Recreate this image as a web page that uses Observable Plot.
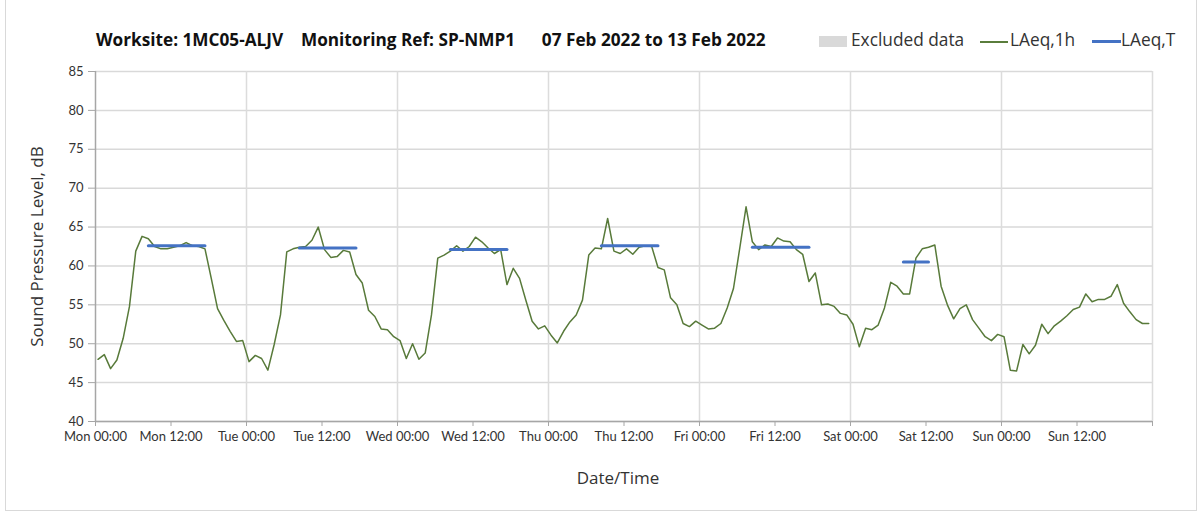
<!DOCTYPE html>
<html><head><meta charset="utf-8">
<script src="https://cdn.jsdelivr.net/npm/d3@7"></script>
<script src="https://cdn.jsdelivr.net/npm/@observablehq/plot@0.6"></script>
<style>
body{margin:0;background:#fff;font-family:"Open Sans",Lato,sans-serif;}
#wrap{position:relative;width:1203px;height:514px;overflow:hidden;background:#fff;}
#frame{position:absolute;left:5px;top:-2px;width:1192px;height:513px;border:1px solid #d9d9d9;box-sizing:border-box;}
#title{position:absolute;left:96px;top:29.5px;line-height:20px;font-weight:bold;font-size:17.2px;white-space:pre;color:#111;}
.lg{position:absolute;top:30px;line-height:20px;font-size:17.3px;color:#333;white-space:pre;}
.sw{position:absolute;}
#chart{position:absolute;left:0;top:60px;}
</style></head>
<body>
<div id="wrap">
  <div id="frame"></div>
  <div id="title">Worksite: 1MC05-ALJV    Monitoring Ref: SP-NMP1      07 Feb 2022 to 13 Feb 2022</div>
  <div class="sw" style="left:819px;top:36px;width:28px;height:11px;background:#d9d9d9"></div>
  <div class="lg" style="left:851px">Excluded data</div>
  <div class="sw" style="left:980px;top:41px;width:28px;height:1.5px;background:#5a7d3c"></div>
  <div class="lg" style="left:1010px">LAeq,1h</div>
  <div class="sw" style="left:1092px;top:40px;width:29px;height:3px;background:#4472c4"></div>
  <div class="lg" style="left:1121px">LAeq,T</div>
  <div id="chart"></div>
</div>
<script>
// Hourly LAeq,1h values, Mon 07 Feb 2022 00:00 .. Sun 13 Feb 2022 23:00
const laeq1h = [
  48.0,48.6,46.8,47.9,50.7,54.8,61.9,63.8,63.5,62.5,62.2,62.2,62.4,62.6,63.0,62.6,62.5,62.2,58.4,54.5,53.0,51.6,50.3,50.4,
  47.7,48.5,48.1,46.6,49.9,53.7,61.8,62.2,62.4,62.5,63.3,65.0,62.1,61.1,61.2,62.0,61.8,58.9,57.8,54.3,53.5,51.9,51.8,50.9,
  50.4,48.1,50.0,48.0,48.8,53.7,61.0,61.4,61.9,62.6,61.9,62.5,63.7,63.1,62.3,61.6,62.1,57.6,59.7,58.4,55.6,52.9,51.9,52.3,
  51.1,50.1,51.6,52.8,53.7,55.6,61.4,62.3,62.2,66.1,61.9,61.6,62.2,61.5,62.4,62.6,62.5,59.8,59.5,55.9,55.0,52.6,52.2,52.9,
  52.4,51.9,52.0,52.6,54.6,57.1,62.3,67.6,63.1,62.1,62.7,62.5,63.6,63.2,63.1,62.1,61.5,58.0,59.1,55.0,55.1,54.8,53.9,53.7,
  52.5,49.6,52.0,51.8,52.4,54.6,57.9,57.4,56.4,56.4,61.0,62.2,62.4,62.7,57.4,55.0,53.2,54.5,55.0,53.1,52.0,50.9,50.4,51.2,
  50.9,46.6,46.5,49.9,48.7,49.8,52.5,51.3,52.3,52.9,53.6,54.4,54.7,56.4,55.4,55.7,55.7,56.1,57.6,55.2,54.1,53.1,52.6,52.6
];
// LAeq,T periods (hour index from Mon 00:00) and values
const tStartHour = [8, 32, 56, 80, 104, 128];
const tEndHour   = [17, 41, 65, 89, 113, 132];
const tValue     = [62.6, 62.3, 62.1, 62.6, 62.4, 60.5];
const xTickLabels = ["Mon 00:00","Mon 12:00","Tue 00:00","Tue 12:00","Wed 00:00","Wed 12:00","Thu 00:00","Thu 12:00",
  "Fri 00:00","Fri 12:00","Sat 00:00","Sat 12:00","Sun 00:00","Sun 12:00",""];
const yTicks = [40,45,50,55,60,65,70,75,80,85];

const H = 3600e3;
const start = new Date(Date.UTC(2022,1,7));
const end = new Date(+start + 168*H);
const stamp = 24*60e3; // sample timestamps at hh:24
const data = laeq1h.map((v,i)=>({t:new Date(+start + i*H + stamp), v}));
const segData = tValue.flatMap((v,i)=>[
  {t:new Date(+start + tStartHour[i]*H + stamp), v, k:i},
  {t:new Date(+start + tEndHour[i]*H + stamp), v, k:i}
]);
const xTicks = xTickLabels.map((_,i)=>new Date(+start + i*12*H));
const dayTicks = d3.range(1,8).map(i=>new Date(+start + i*24*H));

const chart = Plot.plot({
  width:1203, height:454,
  marginLeft:95, marginRight:51, marginTop:11, marginBottom:93,
  style:{fontFamily:"Lato, 'Open Sans', sans-serif", fontSize:"13px", color:"#333", background:"transparent"},
  x:{type:"utc", domain:[start,end]},
  y:{domain:[40,85]},
  marks:[
    Plot.gridY(yTicks, {stroke:"#d9d9d9", strokeOpacity:1, strokeWidth:1.5}),
    Plot.gridX(dayTicks, {stroke:"#dcdcdc", strokeOpacity:1, strokeWidth:1.5}),
    Plot.axisY(yTicks, {tickSize:7, tickPadding:5, stroke:"#a6a6a6", label:null, fontSize:13}),
    Plot.axisX(xTicks, {tickSize:5, tickPadding:5, stroke:"#a6a6a6", label:null, fontSize:13,
      tickFormat:d=>xTickLabels[Math.round((d-start)/(12*H))] ?? ""}),
    Plot.ruleX([start], {stroke:"#a6a6a6", strokeWidth:1.5}),
    Plot.ruleY([40], {stroke:"#a6a6a6", strokeWidth:1.5}),
    Plot.line(data, {x:"t", y:"v", stroke:"#587a3a", strokeWidth:1.5}),
    Plot.line(segData, {x:"t", y:"v", z:"k", stroke:"#4472c4", strokeWidth:3}),
    Plot.text(["Sound Pressure Level, dB"], {frameAnchor:"left", textAnchor:"middle", dx:-58, dy:0, rotate:-90,
      fontSize:17, fill:"#333", fontFamily:"'Open Sans', sans-serif"}),
    Plot.text(["Date/Time"], {frameAnchor:"bottom", dx:-6, dy:62, fontSize:17, fill:"#333",
      fontFamily:"'Open Sans', sans-serif"})
  ]
});
document.getElementById("chart").appendChild(chart);
</script>
</body></html>
